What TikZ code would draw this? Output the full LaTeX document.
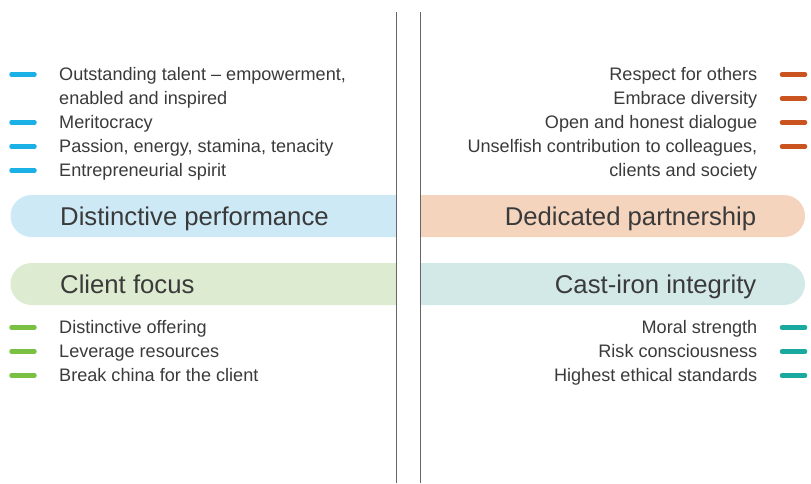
\documentclass[tikz,border=0pt]{standalone}
\usepackage{fontspec}
\setmainfont{Liberation Sans}
\usepackage{xcolor}

\definecolor{perfblue}{HTML}{1BB1E7}
\definecolor{partorange}{HTML}{C9541F}
\definecolor{clientgreen}{HTML}{7AC143}
\definecolor{integteal}{HTML}{1AA99E}
\definecolor{perfbg}{HTML}{CDE9F6}
\definecolor{partbg}{HTML}{F5D4BE}
\definecolor{clientbg}{HTML}{DDEBD0}
\definecolor{integbg}{HTML}{D3E9E8}
\definecolor{txtgray}{HTML}{3A3A3A}
\definecolor{linegray}{HTML}{666666}

\begin{document}
\begin{tikzpicture}[x=1pt,y=-1pt,
        item/.style={inner sep=0pt, text=txtgray, font=\fontsize{18.1}{20}\selectfont},
        heading/.style={inner sep=0pt, text=txtgray, font=\fontsize{25.7}{30}\selectfont},
        tick/.style={line width=4.5pt, line cap=round, draw=#1},
        divider/.style={draw=linegray, line width=1.4pt}]
        \useasboundingbox (0,0) rectangle (811,483);

        % Draw the banners
        \fill[perfbg] (396.5,195) -- (31.5,195) arc[start angle=270, end angle=90, radius=21] -- (396.5,237) -- cycle;
        \fill[partbg] (420.5,195) -- (784,195) arc[start angle=270, end angle=450, radius=21] -- (420.5,237) -- cycle;
        \fill[clientbg] (396.5,263) -- (31.5,263) arc[start angle=270, end angle=90, radius=21] -- (396.5,305) -- cycle;
        \fill[integbg] (420.5,263) -- (784,263) arc[start angle=270, end angle=450, radius=21] -- (420.5,305) -- cycle;

        % Banner titles
        \node[heading, anchor=base west] (perf) at (60,225.5) {Distinctive performance};
        \node[heading, anchor=base east] (part) at (756.5,225.5) {Dedicated partnership};
        \node[heading, anchor=base west] (client) at (60,293) {Client focus};
        \node[heading, anchor=base east] (integ) at (756.5,293) {Cast-iron integrity};

        % Items under each heading
        \foreach \t [count=\i from 0] in {{Outstanding talent -- empowerment,},{enabled and inspired},{Meritocracy},{Passion, energy, stamina, tenacity},{Entrepreneurial spirit}} {
            \node[item, anchor=base west] (perf-\i) at (59,80.5+24*\i) {\t};
        }
        \foreach \t [count=\i from 0] in {{Respect for others},{Embrace diversity},{Open and honest dialogue},{Unselfish contribution to colleagues,},{clients and society}} {
            \node[item, anchor=base east] (part-\i) at (757.5,80.5+24*\i) {\t};
        }
        \foreach \t [count=\i from 0] in {{Distinctive offering},{Leverage resources},{Break china for the client}} {
            \node[item, anchor=base west] (client-\i) at (59,333.5+24*\i) {\t};
        }
        \foreach \t [count=\i from 0] in {{Moral strength},{Risk consciousness},{Highest ethical standards}} {
            \node[item, anchor=base east] (integ-\i) at (757.5,333.5+24*\i) {\t};
        }

        % Bullet dashes
        \foreach \y in {74.5,122.5,146.5,170.5}
            \draw[tick=perfblue] (11.5,\y) -- (34.5,\y);
        \foreach \y in {74.5,98.5,122.5,146.5}
            \draw[tick=partorange] (782,\y) -- (805,\y);
        \foreach \y in {327.5,351.5,375.5} {
            \draw[tick=clientgreen] (11.5,\y) -- (34.5,\y);
            \draw[tick=integteal] (782,\y) -- (805,\y);
        }

        % Dividing lines
        \draw[divider] (396.5,12) -- (396.5,483);
        \draw[divider] (420.5,12) -- (420.5,483);
\end{tikzpicture}
\end{document}
